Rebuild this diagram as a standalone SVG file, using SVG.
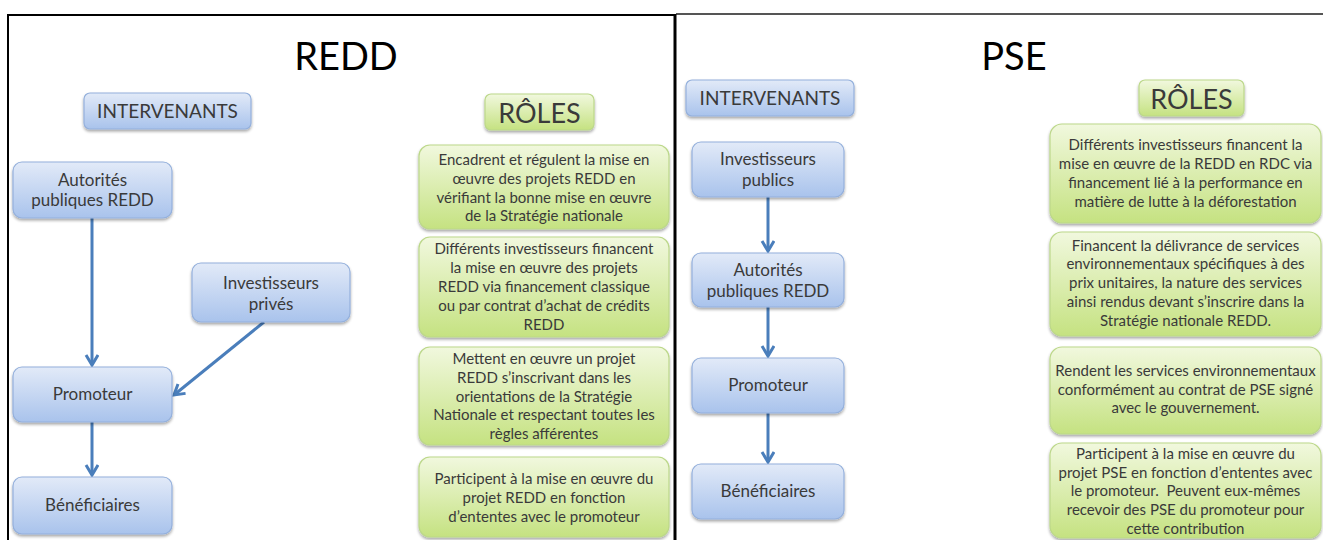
<svg xmlns="http://www.w3.org/2000/svg" width="1323" height="540" viewBox="0 0 1323 540">
<style>
  .t { font-family: Lato, "Liberation Sans", sans-serif; fill: #3a3a3a; text-anchor: middle; }
  .title { font-family: Lato, "Liberation Sans", sans-serif; fill: #000; text-anchor: middle; font-size: 38px; }
  .hdr { font-size: 19px; }
  .roles { font-size: 27px; }
  .node { font-size: 17px; }
  .role { font-size: 15px; }
  .blue { fill: url(#gBlue); stroke: #94b0dc; stroke-width: 1.2; filter: url(#shadow); }
  .green { fill: url(#gGreen); stroke: #bcd88a; stroke-width: 1.2; filter: url(#shadow); }
  .conn { stroke: #4a7ebb; stroke-width: 3; fill: none; marker-end: url(#arrow); }
  .frame { stroke: #000; fill: none; }
</style>
<defs>
  <linearGradient id="gBlue" x1="0" y1="0" x2="0" y2="1">
    <stop offset="0" stop-color="#e2eaf8"/>
    <stop offset="1" stop-color="#a9c3ec"/>
  </linearGradient>
  <linearGradient id="gGreen" x1="0" y1="0" x2="0" y2="1">
    <stop offset="0" stop-color="#f1f8de"/>
    <stop offset="1" stop-color="#c5e281"/>
  </linearGradient>
  <filter id="shadow" x="-10%" y="-10%" width="120%" height="130%">
    <feGaussianBlur in="SourceAlpha" stdDeviation="1.5"/>
    <feOffset dx="0" dy="2" result="b"/>
    <feComponentTransfer><feFuncA type="linear" slope="0.35"/></feComponentTransfer>
    <feMerge><feMergeNode/><feMergeNode in="SourceGraphic"/></feMerge>
  </filter>
  <marker id="arrow" markerUnits="userSpaceOnUse" markerWidth="20" markerHeight="20" refX="11" refY="7" orient="auto">
    <path d="M1,1 L11,7 L1,13" fill="none" stroke="#4a7ebb" stroke-width="3" stroke-linejoin="miter"/>
  </marker>
</defs>
<rect width="1323" height="540" fill="#fff"/>

<g id="frames">
  <path class="frame" d="M8,541 L8,15 L675,15" stroke-width="2"/>
  <path d="M676,14 L1323,14" stroke="#555" stroke-width="2" fill="none"/>
  <path d="M675,14 L675,541" stroke="#000" stroke-width="3" fill="none"/>
</g>

<text class="title" x="346" y="70">REDD</text>
<text class="title" x="1014" y="70">PSE</text>

<g id="connectors">
  <line class="conn" x1="92" y1="218" x2="92" y2="365"/>
  <line class="conn" x1="264" y1="322" x2="174" y2="395"/>
  <line class="conn" x1="92" y1="422" x2="92" y2="475"/>
  <line class="conn" x1="768" y1="197" x2="768" y2="251"/>
  <line class="conn" x1="768" y1="307" x2="768" y2="356"/>
  <line class="conn" x1="768" y1="413" x2="768" y2="462"/>
</g>

<g id="redd-intervenants">
  <rect class="blue" x="84" y="93" width="167" height="36" rx="6"/>
  <text class="t hdr" x="167.5" y="118">INTERVENANTS</text>
</g>
<g id="redd-roles">
  <rect class="green" x="485" y="94" width="109" height="36" rx="6"/>
  <text class="t roles" x="539.5" y="123">RÔLES</text>
</g>
<g id="redd-autorites">
  <rect class="blue" x="13" y="162" width="159" height="56" rx="9"/>
  <text class="t node" x="92.5" y="186">Autorités</text>
  <text class="t node" x="92.5" y="206">publiques REDD</text>
</g>
<g id="redd-investisseurs">
  <rect class="blue" x="192" y="263" width="158" height="59" rx="9"/>
  <text class="t node" x="271" y="289">Investisseurs</text>
  <text class="t node" x="271" y="310">privés</text>
</g>
<g id="redd-promoteur">
  <rect class="blue" x="13" y="367" width="159" height="55" rx="9"/>
  <text class="t node" x="92.5" y="400">Promoteur</text>
</g>
<g id="redd-beneficiaires">
  <rect class="blue" x="13" y="477" width="159" height="57" rx="9"/>
  <text class="t node" x="92.5" y="511">Bénéficiaires</text>
</g>

<g id="redd-role1">
  <rect class="green" x="419" y="145" width="250" height="84" rx="11"/>
  <text class="t role" x="544" y="165">Encadrent et régulent la mise en</text>
  <text class="t role" x="544" y="184">œuvre des projets REDD en</text>
  <text class="t role" x="544" y="203">vérifiant la bonne mise en œuvre</text>
  <text class="t role" x="544" y="221">de la Stratégie nationale</text>
</g>
<g id="redd-role2">
  <rect class="green" x="419" y="237" width="250" height="100" rx="11"/>
  <text class="t role" x="544" y="254">Différents investisseurs financent</text>
  <text class="t role" x="544" y="273">la mise en œuvre des projets</text>
  <text class="t role" x="544" y="292">REDD via financement classique</text>
  <text class="t role" x="544" y="311">ou par contrat d’achat de crédits</text>
  <text class="t role" x="544" y="330">REDD</text>
</g>
<g id="redd-role3">
  <rect class="green" x="419" y="347" width="250" height="98" rx="11"/>
  <text class="t role" x="544" y="364">Mettent en œuvre un projet</text>
  <text class="t role" x="544" y="383">REDD s’inscrivant dans les</text>
  <text class="t role" x="544" y="402">orientations de la Stratégie</text>
  <text class="t role" x="544" y="420">Nationale et respectant toutes les</text>
  <text class="t role" x="544" y="439">règles afférentes</text>
</g>
<g id="redd-role4">
  <rect class="green" x="419" y="457" width="250" height="80" rx="11"/>
  <text class="t role" x="544" y="484">Participent à la mise en œuvre du</text>
  <text class="t role" x="544" y="503">projet REDD en fonction</text>
  <text class="t role" x="544" y="522">d’ententes avec le promoteur</text>
</g>

<g id="pse-intervenants">
  <rect class="blue" x="686" y="80" width="168" height="36" rx="6"/>
  <text class="t hdr" x="770" y="105">INTERVENANTS</text>
</g>
<g id="pse-roles">
  <rect class="green" x="1139" y="80" width="105" height="36" rx="6"/>
  <text class="t roles" x="1191.5" y="109">RÔLES</text>
</g>
<g id="pse-investisseurs">
  <rect class="blue" x="692" y="142" width="152" height="55" rx="9"/>
  <text class="t node" x="768" y="165">Investisseurs</text>
  <text class="t node" x="768" y="186">publics</text>
</g>
<g id="pse-autorites">
  <rect class="blue" x="692" y="253" width="152" height="54" rx="9"/>
  <text class="t node" x="768" y="276">Autorités</text>
  <text class="t node" x="768" y="297">publiques REDD</text>
</g>
<g id="pse-promoteur">
  <rect class="blue" x="692" y="358" width="152" height="55" rx="9"/>
  <text class="t node" x="768" y="391">Promoteur</text>
</g>
<g id="pse-beneficiaires">
  <rect class="blue" x="692" y="464" width="152" height="55" rx="9"/>
  <text class="t node" x="768" y="497">Bénéficiaires</text>
</g>

<g id="pse-role1">
  <rect class="green" x="1050" y="124" width="271" height="99" rx="12"/>
  <text class="t role" x="1185.5" y="150">Différents investisseurs financent la</text>
  <text class="t role" x="1185.5" y="169">mise en œuvre de la REDD en RDC via</text>
  <text class="t role" x="1185.5" y="188">financement lié à la performance en</text>
  <text class="t role" x="1185.5" y="207">matière de lutte à la déforestation</text>
</g>
<g id="pse-role2">
  <rect class="green" x="1050" y="232" width="271" height="104" rx="12"/>
  <text class="t role" x="1185.5" y="251">Financent la délivrance de services</text>
  <text class="t role" x="1185.5" y="269">environnementaux spécifiques à des</text>
  <text class="t role" x="1185.5" y="288">prix unitaires, la nature des services</text>
  <text class="t role" x="1185.5" y="307">ainsi rendus devant s’inscrire dans la</text>
  <text class="t role" x="1185.5" y="326">Stratégie nationale REDD.</text>
</g>
<g id="pse-role3">
  <rect class="green" x="1050" y="347" width="271" height="87" rx="12"/>
  <text class="t role" x="1185.5" y="376">Rendent les services environnementaux</text>
  <text class="t role" x="1185.5" y="395">conformément au contrat de PSE signé</text>
  <text class="t role" x="1185.5" y="413">avec le gouvernement.</text>
</g>
<g id="pse-role4">
  <rect class="green" x="1050" y="443" width="271" height="95" rx="12"/>
  <text class="t role" x="1185.5" y="459">Participent à la mise en œuvre du</text>
  <text class="t role" x="1185.5" y="478">projet PSE en fonction d’ententes avec</text>
  <text class="t role" x="1185.5" y="496" xml:space="preserve">le promoteur.  Peuvent eux-mêmes</text>
  <text class="t role" x="1185.5" y="515">recevoir des PSE du promoteur pour</text>
  <text class="t role" x="1185.5" y="534">cette contribution</text>
</g>
</svg>
